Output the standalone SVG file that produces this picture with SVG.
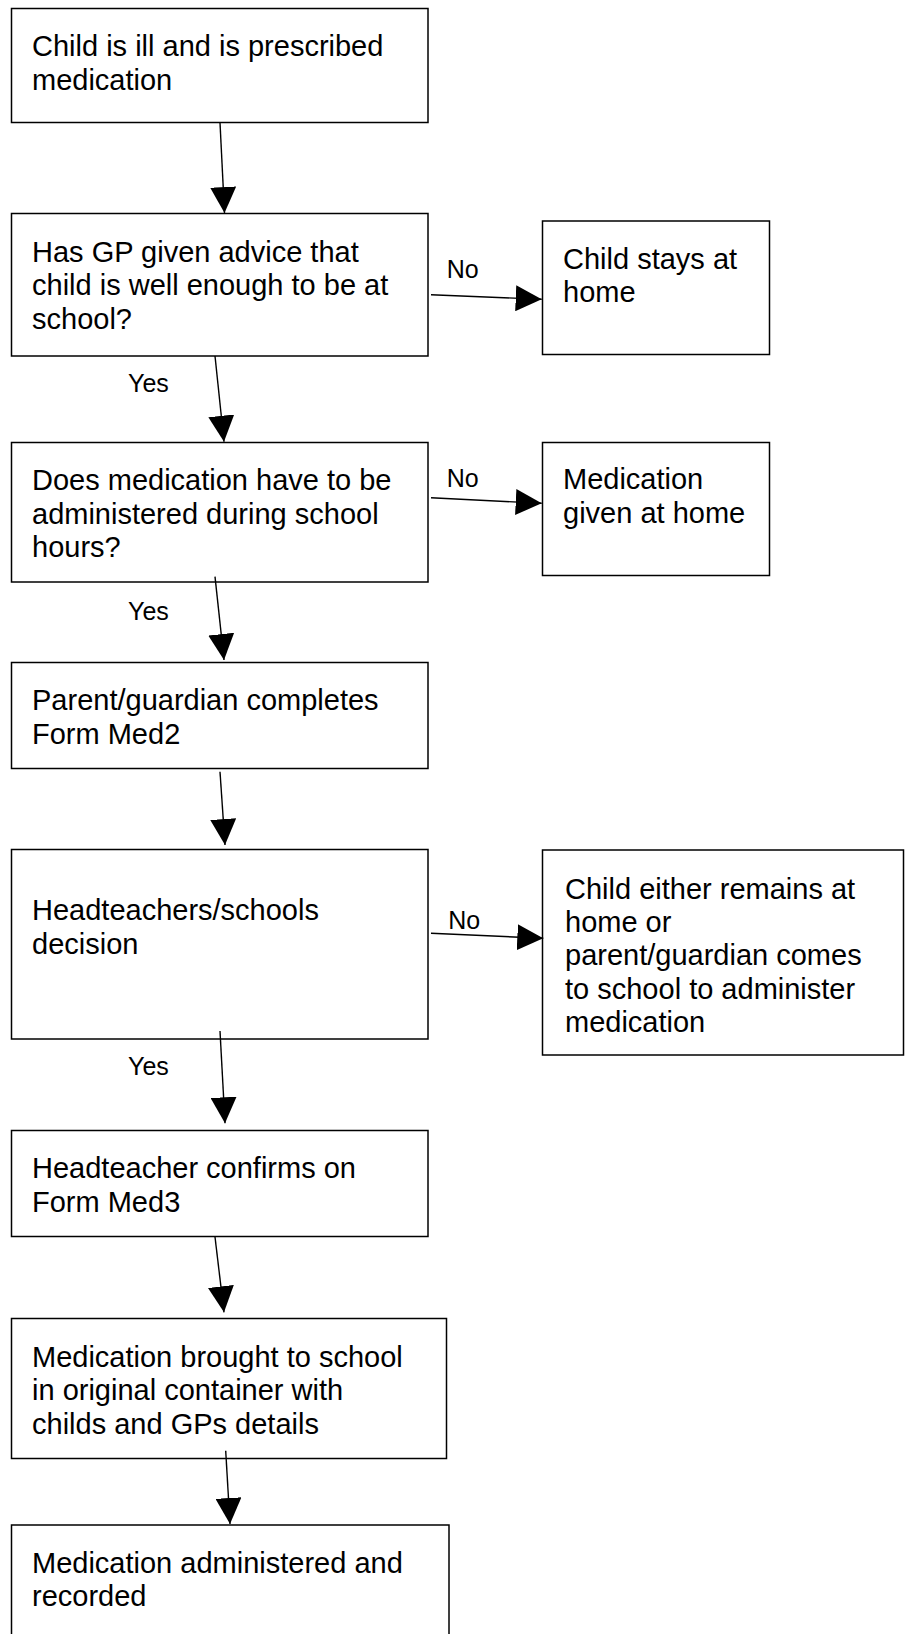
<svg xmlns="http://www.w3.org/2000/svg" width="910" height="1634" viewBox="0 0 910 1634">
<style>
.box{fill:#fff;stroke:#000;stroke-width:1.5}
.t{font-family:"Liberation Sans",Arial,sans-serif;font-size:29px;fill:#000}
.lbl{font-family:"Liberation Sans",Arial,sans-serif;font-size:25px;fill:#000}
.c{stroke:#000;stroke-width:1.4;fill:none;marker-end:url(#ah)}
</style>
<defs>
<marker id="ah" markerUnits="userSpaceOnUse" markerWidth="26" markerHeight="26" refX="26" refY="13" orient="auto">
<path d="M0,0 L26,13 L0,26 Z" fill="#000"/>
</marker>
</defs>
<rect width="910" height="1634" fill="#fff"/>
<g id="n1"><rect class="box" x="11.5" y="8.5" width="416.5" height="114"/><text class="t" x="32" y="56">Child is ill and is prescribed</text><text class="t" x="32" y="90">medication</text></g>
<g id="n2"><rect class="box" x="11.5" y="213.5" width="416.5" height="142.5"/><text class="t" x="32" y="261.5">Has GP given advice that</text><text class="t" x="32" y="295">child is well enough to be at</text><text class="t" x="32" y="328.5">school?</text></g>
<g id="n3"><rect class="box" x="11.5" y="442.5" width="416.5" height="139.5"/><text class="t" x="32" y="490">Does medication have to be</text><text class="t" x="32" y="524">administered during school</text><text class="t" x="32" y="557">hours?</text></g>
<g id="n4"><rect class="box" x="11.5" y="662.5" width="416.5" height="106"/><text class="t" x="32" y="710">Parent/guardian completes</text><text class="t" x="32" y="743.5">Form Med2</text></g>
<g id="n5"><rect class="box" x="11.5" y="849.5" width="416.5" height="189.5"/><text class="t" x="32" y="920">Headteachers/schools</text><text class="t" x="32" y="954">decision</text></g>
<g id="n6"><rect class="box" x="11.5" y="1130.5" width="416.5" height="106"/><text class="t" x="32" y="1178">Headteacher confirms on</text><text class="t" x="32" y="1211.5">Form Med3</text></g>
<g id="n7"><rect class="box" x="11.5" y="1318.5" width="435" height="140"/><text class="t" x="32" y="1367">Medication brought to school</text><text class="t" x="32" y="1400">in original container with</text><text class="t" x="32" y="1433.5">childs and GPs details</text></g>
<g id="n8"><rect class="box" x="11.5" y="1525" width="437.5" height="130"/><text class="t" x="32" y="1572.5">Medication administered and</text><text class="t" x="32" y="1606">recorded</text></g>
<g id="r1"><rect class="box" x="542.5" y="221" width="227" height="133.5"/><text class="t" x="563" y="268.5">Child stays at</text><text class="t" x="563" y="302">home</text></g>
<g id="r2"><rect class="box" x="542.5" y="442.5" width="227" height="133"/><text class="t" x="563" y="488.5">Medication</text><text class="t" x="563" y="523">given at home</text></g>
<g id="r3"><rect class="box" x="542.5" y="850" width="361" height="205"/><text class="t" x="565" y="898.5">Child either remains at</text><text class="t" x="565" y="932">home or</text><text class="t" x="565" y="965">parent/guardian comes</text><text class="t" x="565" y="998.5">to school to administer</text><text class="t" x="565" y="1032">medication</text></g>
<g id="connectors">
<line class="c" x1="220" y1="122.7" x2="224.5" y2="213"/>
<line class="c" x1="215" y1="356" x2="224" y2="441.7"/>
<line class="c" x1="215" y1="576.7" x2="224" y2="660"/>
<line class="c" x1="220" y1="771.7" x2="225" y2="845"/>
<line class="c" x1="220" y1="1031" x2="225" y2="1123.3"/>
<line class="c" x1="215" y1="1237" x2="224" y2="1312.3"/>
<line class="c" x1="225.7" y1="1450.7" x2="230" y2="1524"/>
<line class="c" x1="431" y1="294.7" x2="541.7" y2="299.3"/>
<line class="c" x1="431" y1="497.7" x2="541.7" y2="503.3"/>
<line class="c" x1="431" y1="933.3" x2="543.3" y2="938.3"/>
<text class="lbl" x="446.7" y="278.3">No</text>
<text class="lbl" x="446.7" y="486.7">No</text>
<text class="lbl" x="448.3" y="929">No</text>
<text class="lbl" x="128" y="391.7">Yes</text>
<text class="lbl" x="128" y="620">Yes</text>
<text class="lbl" x="128" y="1075">Yes</text>
</g>
</svg>
